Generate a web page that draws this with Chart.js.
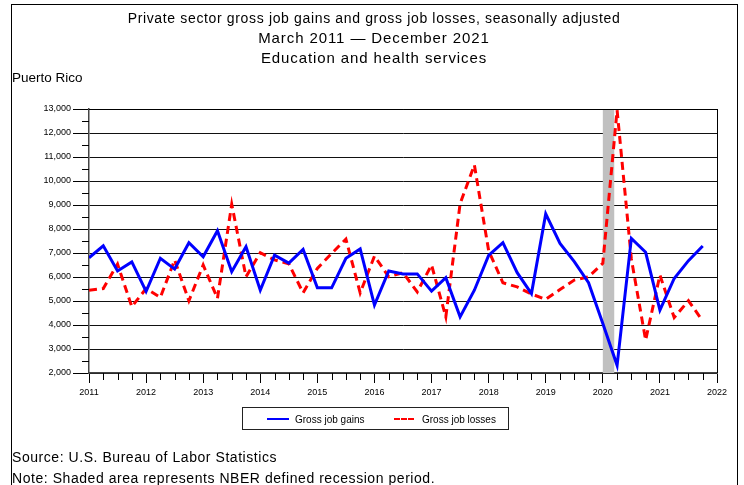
<!DOCTYPE html>
<html>
<head>
<meta charset="utf-8">
<script src="https://cdn.jsdelivr.net/npm/chart.js@4.4.1/dist/chart.umd.min.js"></script>
<style>
  html, body { margin: 0; padding: 0; background: #fff; }
  body { width: 744px; height: 485px; position: relative; overflow: hidden; font-family: "Liberation Sans", Arial, sans-serif; color: #000; }
  #chart { position: absolute; left: 0; top: 0; }
  .frame { position: absolute; left: 11px; top: 4px; width: 725px; height: 520px; border: 1px solid #000; }
  .txt { position: absolute; line-height: 1; white-space: nowrap; }
  .title { left: 11px; width: 726px; text-align: center; }
  #legend { position: absolute; left: 242px; top: 407px; width: 265px; height: 21px; border: 1px solid #222; }
  #legend .item { position: absolute; top: 0; height: 21px; }
  #legend .swatch { position: absolute; top: 10px; height: 0; }
  #legend .lbl { position: absolute; top: 7px; font-size: 10px; line-height: 1; white-space: nowrap; }
</style>
</head>
<body>
<canvas id="chart" width="744" height="485"></canvas>
<div class="frame"></div>
<div class="txt title" style="top:10.5px;font-size:14px;letter-spacing:0.65px;">Private sector gross job gains and gross job losses, seasonally adjusted</div>
<div class="txt title" style="top:29.5px;font-size:15px;letter-spacing:0.9px;">March 2011 — December 2021</div>
<div class="txt title" style="top:49.5px;font-size:15px;letter-spacing:0.9px;">Education and health services</div>
<div class="txt" style="left:12px;top:71px;font-size:13.5px;">Puerto Rico</div>
<div id="legend"></div>
<div class="txt" style="left:12px;top:450px;font-size:14px;letter-spacing:0.55px;">Source: U.S. Bureau of Labor Statistics</div>
<div class="txt" style="left:12px;top:471px;font-size:14px;letter-spacing:0.55px;">Note: Shaded area represents NBER defined recession period.</div>
<script>
// quarterly data, March 2011 - December 2021
const years = [2011, 2012, 2013, 2014, 2015, 2016, 2017, 2018, 2019, 2020, 2021];
const quarters = years.flatMap(y => [1, 2, 3, 4].map(q => `${y} Q${q}`));

const gains = [
  6800, 7300, 6250, 6630, 5400, 6780, 6330, 7430, 6840, 7930, 6220,
  7260, 5450, 6910, 6580, 7150, 5550, 5550, 6780, 7170, 4830, 6250,
  6130, 6130, 5410, 5970, 4340, 5450, 6900, 7430, 6180, 5310, 8630,
  7400, 6640, 5760, 4060, 2320, 7610, 7030, 4620, 5940, 6680, 7290
];
const losses = [
  5450, 5520, 6540, 4760, 5520, 5150, 6710, 5010, 6500, 5110, 9030,
  6010, 7010, 6710, 6550, 5340, 6360, 6980, 7580, 5340, 6870, 6010,
  6180, 5380, 6500, 4340, 9050, 10670, 7100, 5760, 5590, 5290, 5070,
  5480, 5870, 6010, 6570, 12950, 6750, 3370, 6080, 4310, 5010, 4170
];

const yearTicks = [2011, 2012, 2013, 2014, 2015, 2016, 2017, 2018, 2019, 2020, 2021, 2022];
const recession = [2020.0, 2020.2];

const toX = label => {
  const [y, q] = label.split(" Q");
  return Number(y) + (Number(q) - 1) / 4;
};

const framePlugin = {
  id: "frame",
  beforeDatasetsDraw(chart) {
    const { ctx, chartArea, scales: { x } } = chart;
    ctx.save();
    ctx.fillStyle = "#c0c0c0";
    const x0 = x.getPixelForValue(recession[0]);
    const x1 = x.getPixelForValue(recession[1]);
    ctx.fillRect(x0, chartArea.top, x1 - x0, chartArea.bottom - chartArea.top);
    ctx.restore();
  },
  afterDraw(chart) {
    const { ctx, chartArea, scales: { x, y } } = chart;
    ctx.save();
    ctx.strokeStyle = "#000";
    ctx.lineWidth = 1;
    ctx.beginPath();
    const r = Math.round(chartArea.right) + 0.5;
    ctx.moveTo(r, chartArea.top);
    ctx.lineTo(r, chartArea.bottom);
    ctx.moveTo(chartArea.left, Math.round(chartArea.top) + 0.5);
    ctx.lineTo(r, Math.round(chartArea.top) + 0.5);
    // minor y ticks (every 500)
    for (let v = 2500; v < 13000; v += 1000) {
      const py = Math.round(y.getPixelForValue(v)) + 0.5;
      ctx.moveTo(chartArea.left - 7, py);
      ctx.lineTo(chartArea.left, py);
    }
    // quarterly x ticks
    for (let t = yearTicks[0]; t < yearTicks[yearTicks.length - 1]; t++) {
      for (let q = 1; q < 4; q++) {
        const px = Math.round(x.getPixelForValue(t + q / 4)) + 0.5;
        ctx.moveTo(px, chartArea.bottom);
        ctx.lineTo(px, chartArea.bottom + 7);
      }
    }
    ctx.stroke();
    ctx.restore();
  }
};

const chart = new Chart(document.getElementById("chart"), {
  type: "line",
  data: {
    datasets: [
      {
        label: "Gross job gains",
        data: quarters.map((q, i) => ({ x: toX(q), y: gains[i] })),
        borderColor: "#0000ff",
        borderWidth: 3,
        pointRadius: 0,
        tension: 0
      },
      {
        label: "Gross job losses",
        data: quarters.map((q, i) => ({ x: toX(q), y: losses[i] })),
        borderColor: "#ff0000",
        borderWidth: 3,
        borderDash: [8, 5],
        pointRadius: 0,
        tension: 0
      }
    ]
  },
  options: {
    responsive: false,
    animation: false,
    layout: { padding: { top: 109, right: 27, bottom: 82, left: 0 } },
    plugins: {
      legend: { display: false },
      title: { display: false },
      tooltip: { enabled: false }
    },
    scales: {
      x: {
        type: "linear",
        min: yearTicks[0],
        max: yearTicks[yearTicks.length - 1],
        afterFit: s => { s.height = 30; },
        afterBuildTicks: s => { s.ticks = yearTicks.map(v => ({ value: v })); },
        grid: { drawOnChartArea: false, tickLength: 10, color: "#000", tickColor: "#000" },
        border: { color: "#444", width: 1.5 },
        ticks: {
          font: { family: "Liberation Sans", size: 9 },
          color: "#000",
          padding: 4,
          maxRotation: 0,
          autoSkip: false,
          callback: v => String(v)
        }
      },
      y: {
        min: 2000,
        max: 13000,
        afterFit: s => { s.width = 89; },
        grid: { color: "#111", tickColor: "#000", tickLength: 16, lineWidth: 1 },
        border: { color: "#444", width: 1.5 },
        ticks: {
          stepSize: 1000,
          font: { family: "Liberation Sans", size: 9 },
          color: "#000",
          padding: 2,
          callback: v => v.toLocaleString("en-US")
        }
      }
    }
  },
  plugins: [framePlugin]
});

// legend built from the chart's datasets
const legendEl = document.getElementById("legend");
const legendPos = [{ sw: 24, w: 22, txt: 52 }, { sw: 151, w: 20, txt: 179 }];
chart.data.datasets.forEach((ds, i) => {
  const p = legendPos[i];
  const sw = document.createElement("div");
  sw.className = "swatch";
  sw.style.left = p.sw + "px";
  sw.style.width = p.w + "px";
  sw.style.borderTop = ds.borderDash ? `2px dashed ${ds.borderColor}` : `2px solid ${ds.borderColor}`;
  const lbl = document.createElement("div");
  lbl.className = "lbl";
  lbl.style.left = p.txt + "px";
  lbl.textContent = ds.label;
  legendEl.appendChild(sw);
  legendEl.appendChild(lbl);
});
</script>
</body>
</html>
